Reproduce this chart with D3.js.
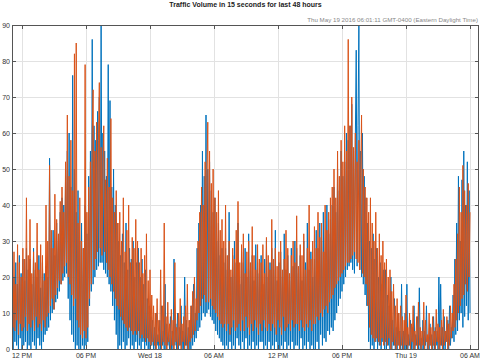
<!DOCTYPE html>
<html><head><meta charset="utf-8">
<script src="https://cdn.jsdelivr.net/npm/d3@7"></script>
<style>body{margin:0;background:#fff} svg{display:block}</style>
</head><body>
<svg id="c" width="483" height="361"></svg>
<script>
const chartTitle = "Traffic Volume in 15 seconds for last 48 hours";
const stampText = "Thu May 19 2016 06:01:11 GMT-0400 (Eastern Daylight Time)";
const startTime = [2016, 4, 17, 11, 5];
const stepMinutes = 5;
const blueValues = [
15,0,20,2,24,1,18,0,26,3,21,0,25,1,19,2,28,0,22,1,
25,0,18,2,28,1,22,0,20,3,26,1,17,0,24,2,21,4,23,5,
20,6,53,8,28,10,33,11,26,13,35,14,30,16,38,18,42,19,40,20,
48,21,55,14,60,8,45,4,76,2,50,0,38,1,44,0,30,0,35,1,
28,0,40,1,32,2,48,12,55,16,86,18,62,20,58,22,66,23,70,24,
90,24,60,22,55,21,48,20,79,18,69,16,45,12,50,8,40,4,35,0,
30,1,26,0,32,2,24,0,35,1,22,3,28,0,25,1,30,0,20,2,
24,0,28,1,20,0,25,2,18,0,22,1,14,0,12,0,9,1,8,0,
6,0,10,1,4,0,8,0,12,1,5,0,18,0,7,1,4,0,9,0,
5,0,25,1,7,0,10,0,6,1,12,0,5,0,20,1,8,0,6,0,
8,0,12,1,18,2,10,3,28,5,35,6,40,8,55,10,48,9,65,10,
50,11,52,9,44,8,38,7,42,5,30,4,35,3,26,2,28,1,24,0,
28,1,22,0,38,2,20,0,26,1,30,0,24,3,35,1,18,0,27,2,
24,0,28,3,20,0,32,1,22,0,26,2,19,0,29,1,24,0,21,2,
26,2,18,0,25,1,30,0,20,2,24,0,28,1,22,0,33,2,19,0,
24,0,27,1,20,0,32,2,22,0,26,1,19,0,28,2,23,0,30,1,
28,1,21,0,26,3,19,0,30,1,24,0,35,2,22,0,27,1,20,0,
25,0,33,2,28,0,35,4,30,1,38,3,27,2,40,5,32,4,36,6,
40,5,45,8,38,10,50,12,44,14,55,16,48,18,52,20,60,22,58,23,
62,24,68,22,55,21,58,83,23,62,90,22,55,20,60,18,48,15,42,12,
35,2,30,0,28,1,32,0,25,2,28,0,20,1,24,0,18,2,22,0,
22,0,15,1,12,0,20,0,8,1,14,0,6,0,10,1,5,0,18,0,
5,0,10,0,18,0,4,1,8,0,6,0,12,0,4,1,9,0,17,0,
3,0,8,0,5,1,12,0,3,0,7,1,4,0,9,0,6,1,5,0,
20,0,18,1,6,0,9,0,5,2,8,0,12,1,6,3,15,2,25,4,
35,5,48,8,30,10,47,6,55,9,40,12,52,8,44,10
];
const orangeValues = [
22,6,27,5,18,8,29,4,24,7,20,5,28,6,25,9,42,5,26,7,
36,6,21,8,27,5,24,9,35,6,22,7,29,5,26,8,19,6,40,9,
30,10,51,12,33,14,28,11,43,15,36,17,32,19,41,18,45,21,38,23,
52,24,65,20,48,18,58,15,44,12,82,14,85,8,35,6,42,4,30,3,
28,5,79,3,38,6,45,14,52,18,60,72,22,55,25,63,27,58,74,28,
56,26,50,62,27,47,24,53,22,45,20,64,18,42,16,38,14,44,12,35,
11,38,9,30,8,42,7,27,6,33,5,40,6,24,5,31,4,28,5,36,
4,30,5,24,3,28,4,21,3,26,2,32,3,19,2,22,1,15,2,12,
1,10,0,14,2,8,1,22,0,12,2,35,1,9,0,13,2,7,0,11,
1,8,0,24,2,6,0,10,1,14,0,7,2,9,0,12,1,18,0,8,
2,12,3,16,4,20,5,14,8,30,10,38,12,45,14,40,15,52,13,48,
63,13,55,14,46,12,50,11,42,10,38,9,44,8,33,7,36,6,30,7,
40,5,26,7,30,4,22,6,28,8,25,5,33,6,41,7,24,5,29,8,
32,5,21,9,27,6,30,4,24,7,34,5,26,8,22,6,29,4,25,7,
24,5,29,8,21,6,31,5,26,7,22,5,36,7,25,6,28,4,23,8,
27,6,30,4,22,9,25,5,33,6,28,7,21,5,26,8,30,6,24,7,
37,7,23,5,29,8,26,6,32,5,22,7,28,6,40,8,25,5,30,7,
34,7,28,9,38,8,31,10,35,9,27,11,40,12,33,10,38,13,42,14,
45,15,50,17,42,18,55,19,48,20,58,21,52,22,62,23,55,24,86,24,
62,25,70,26,56,27,60,25,52,24,58,22,48,65,21,50,20,45,18,42,
12,38,6,42,4,35,3,30,2,38,3,28,2,32,1,26,3,30,1,24,
2,25,1,20,3,22,0,16,2,18,1,12,0,14,1,10,0,12,1,9,
0,8,1,15,0,6,1,10,0,7,2,12,0,5,1,9,0,13,1,6,
0,5,1,13,0,8,2,4,0,10,1,6,0,9,1,5,0,11,2,7,
0,6,1,8,0,11,1,5,2,9,0,7,1,12,3,10,5,18,6,25,
8,32,10,45,12,38,14,51,15,44,18,40,16,46,20,38
];
const yTicks = [0,10,20,30,40,50,60,70,80,90];
const xTickTimes = [[2016,4,17,12],[2016,4,17,18],[2016,4,18,0],[2016,4,18,6],[2016,4,18,12],[2016,4,18,18],[2016,4,19,0],[2016,4,19,6]];
const xTickLabels = ["12 PM","06 PM","Wed 18","06 AM","12 PM","06 PM","Thu 19","06 AM"];
const xDomain = [[2016,4,17,11,3,45],[2016,4,19,6,50,37]];
const yDomain = [0,90];

const svg = d3.select("#c");
const L = 12, R = 479, T = 25, B = 349;
const FONT = "'Liberation Sans', Arial, Helvetica, sans-serif";
const mk = a => new Date(a[0], a[1], a[2], a[3] || 0, a[4] || 0, a[5] || 0);

const x = d3.scaleTime().domain(xDomain.map(mk)).range([L, R]);
const y = d3.scaleLinear().domain(yDomain).range([B, T]);

const t0 = mk(startTime);
const toPts = vals => vals.map((v, i) => ({t: new Date(t0.getTime() + i * stepMinutes * 60000), v}));

svg.append("defs").append("clipPath").attr("id", "clip")
  .append("rect").attr("x", L).attr("y", T).attr("width", R - L).attr("height", B - T);

// grid
const grid = svg.append("g").attr("stroke", "#e2e2e2").attr("stroke-width", 1);
yTicks.forEach(v => {
  const yy = Math.round(y(v)) + 0.5;
  grid.append("line").attr("x1", L).attr("x2", R).attr("y1", yy).attr("y2", yy);
});
xTickTimes.forEach(a => {
  const xx = Math.round(x(mk(a))) + 0.5;
  grid.append("line").attr("x1", xx).attr("x2", xx).attr("y1", T).attr("y2", B);
});

// series
const line = d3.line().x(d => x(d.t)).y(d => y(d.v));
const g = svg.append("g").attr("clip-path", "url(#clip)");
g.append("path").datum(toPts(blueValues)).attr("d", line)
  .attr("fill", "none").attr("stroke", "#0072BD").attr("stroke-width", 1).attr("stroke-linejoin", "bevel");
g.append("path").datum(toPts(orangeValues)).attr("d", line)
  .attr("fill", "none").attr("stroke", "#D95319").attr("stroke-width", 1).attr("stroke-linejoin", "bevel");

// box + ticks
const ax = svg.append("g").attr("stroke", "#555").attr("stroke-width", 1).attr("fill", "none");
ax.append("rect").attr("x", L + 0.5).attr("y", T + 0.5).attr("width", R - L - 1).attr("height", B - T);
yTicks.forEach(v => {
  const yy = Math.round(y(v)) + 0.5;
  ax.append("line").attr("x1", L).attr("x2", L + 4).attr("y1", yy).attr("y2", yy);
  ax.append("line").attr("x1", R).attr("x2", R - 4).attr("y1", yy).attr("y2", yy);
});
xTickTimes.forEach(a => {
  const xx = Math.round(x(mk(a))) + 0.5;
  ax.append("line").attr("x1", xx).attr("x2", xx).attr("y1", B).attr("y2", B - 4);
  ax.append("line").attr("x1", xx).attr("x2", xx).attr("y1", T).attr("y2", T + 4);
});

// labels
const tx = svg.append("g").attr("font-family", FONT).attr("fill", "#333");
yTicks.forEach(v => {
  tx.append("text").attr("x", 10).attr("y", y(v) + 2.5).attr("text-anchor", "end")
    .attr("font-size", 7).text(v);
});
xTickTimes.forEach((a, i) => {
  tx.append("text").attr("x", x(mk(a))).attr("y", 357.5).attr("text-anchor", "middle")
    .attr("font-size", 7).text(xTickLabels[i]);
});
svg.append("text").attr("x", (L + R) / 2).attr("y", 7).attr("text-anchor", "middle")
  .attr("font-family", FONT).attr("font-weight", "bold").attr("font-size", 7).attr("fill", "#222")
  .text(chartTitle);
svg.append("text").attr("x", 478).attr("y", 21.5).attr("text-anchor", "end")
  .attr("font-family", FONT).attr("font-size", 6.2).attr("fill", "#888")
  .text(stampText);
</script>
</body></html>
